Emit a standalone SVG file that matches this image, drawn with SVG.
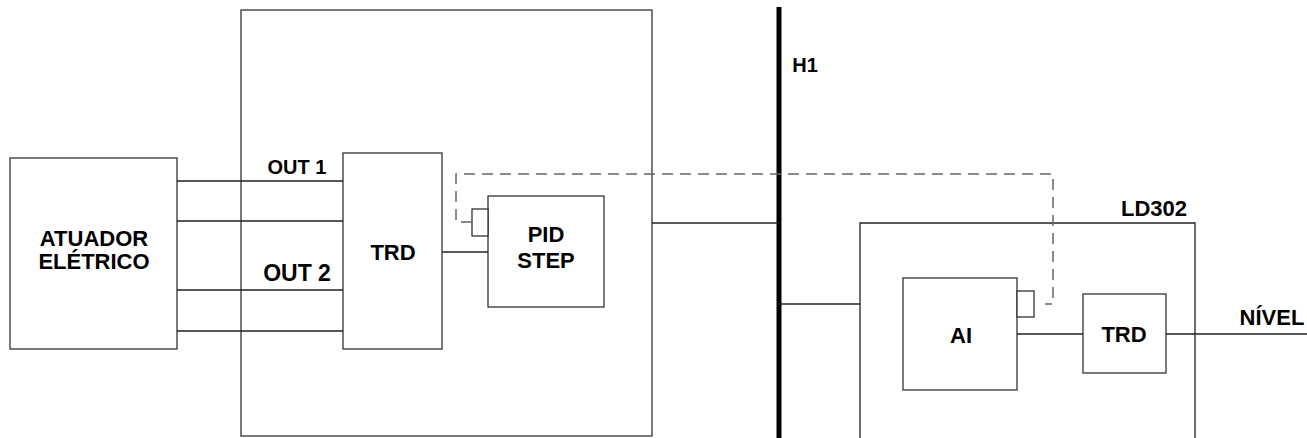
<svg xmlns="http://www.w3.org/2000/svg" width="1307" height="438" viewBox="0 0 1307 438">
<style>
.box{fill:#fff;stroke:#333;stroke-width:1.3}
.ln{fill:none;stroke:#222;stroke-width:1.3}
.dash{fill:none;stroke:#666;stroke-width:1.5;stroke-dasharray:11 7}
.t{font-family:"Liberation Sans",Arial,sans-serif;font-weight:bold;font-size:22px;fill:#000;text-anchor:middle}
</style>
<rect width="1307" height="438" fill="#fff"/>
<g id="device1"><rect class="box" x="241" y="10" width="411" height="426"/></g>
<g id="ld302"><path class="ln" d="M860,438 V223 H1195 V438"/><text class="t" x="1154" y="216">LD302</text></g>
<g id="atuador"><rect class="box" x="10" y="158" width="167" height="191"/><text class="t" x="94" y="246">ATUADOR</text><text class="t" x="94" y="269">ELÉTRICO</text></g>
<g id="trd1"><rect class="box" x="343" y="153" width="99" height="196"/><text class="t" x="393" y="260">TRD</text></g>
<g id="pid"><rect class="box" x="488" y="196" width="116" height="111"/><rect class="box" x="472" y="209" width="16" height="27"/><text class="t" x="546" y="242">PID</text><text class="t" x="546" y="268">STEP</text></g>
<g id="ai"><rect class="box" x="903" y="278" width="114" height="112"/><rect class="box" x="1017" y="291" width="17" height="26"/><text class="t" x="961" y="343">AI</text></g>
<g id="trd2"><rect class="box" x="1083" y="294" width="83" height="79"/><text class="t" x="1124" y="342">TRD</text></g>
<g id="bus"><line x1="779" y1="7" x2="779" y2="438" stroke="#000" stroke-width="5"/><text class="t" x="805" y="72" style="font-size:20px">H1</text></g>
<g id="connectors">
<path class="ln" d="M177,181 H343 M177,221 H343 M177,290 H343 M177,331 H343"/>
<path class="ln" d="M442,252 H488"/>
<path class="ln" d="M652,223 H779"/>
<path class="ln" d="M779,304 H860"/>
<path class="ln" d="M1017,334 H1083 M1166,334 H1307"/>
<path class="dash" d="M472,222 H456 V174 H1053 V304 H1045"/>
</g>
<g id="labels">
<text class="t" x="297" y="174" style="font-size:20px">OUT 1</text>
<text class="t" x="297" y="281" style="font-size:23px">OUT 2</text>
<text class="t" x="1272" y="325">NÍVEL</text>
</g>
</svg>
